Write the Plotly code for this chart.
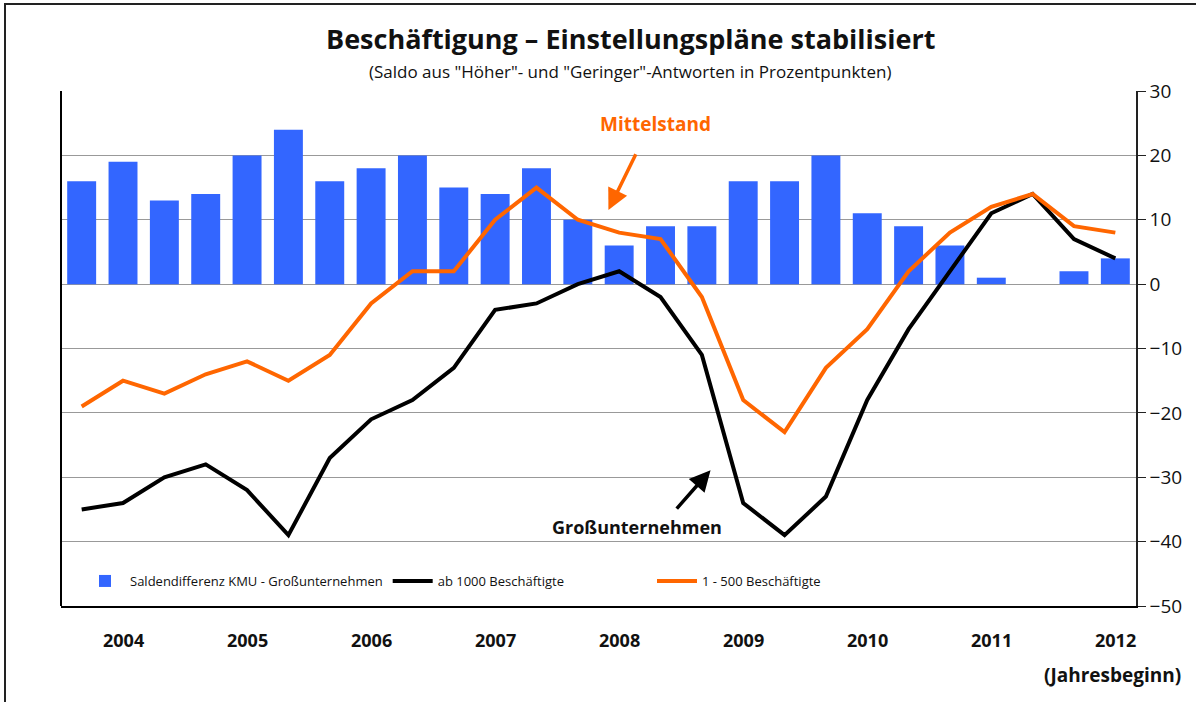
import plotly.graph_objects as go

years = ["2004", "2005", "2006", "2007", "2008", "2009", "2010", "2011", "2012"]
gross = [-35, -34, -30, -28, -32, -39, -27, -21, -18, -13, -4, -3, 0, 2, -2, -11,
         -34, -39, -33, -18, -7, 2, 11, 14, 7, 4]
mittel = [-19, -15, -17, -14, -12, -15, -11, -3, 2, 2, 10, 15, 10, 8, 7, -2,
          -18, -23, -13, -7, 2, 8, 12, 14, 9, 8]
diff = [16, 19, 13, 14, 20, 24, 16, 18, 20, 15, 14, 18, 10, 6, 9, 9,
        16, 16, 20, 11, 9, 6, 1, 0, 2, 4]

idx = list(range(len(diff)))
FONT = "Open Sans"

fig = go.Figure()
fig.add_trace(go.Bar(x=idx, y=diff, name="Saldendifferenz KMU - Großunternehmen",
                     marker=dict(color="#3366FF", line=dict(width=0))))
fig.add_trace(go.Scatter(x=idx, y=gross, mode="lines", name="ab 1000 Beschäftigte",
                         line=dict(color="black", width=4)))
fig.add_trace(go.Scatter(x=idx, y=mittel, mode="lines", name="1 - 500 Beschäftigte",
                         line=dict(color="#FF6600", width=4), legend="legend2"))

annotations = []
for i, yr in enumerate(years):
    annotations.append(dict(x=1 + 3 * i, y=(606 - 640) / 515, xref="x", yref="paper",
                            text="<b>" + yr + "</b>", showarrow=False, yanchor="middle",
                            font=dict(family=FONT, size=18, color="#111111")))
annotations.append(dict(x=(1183 - 61) / 1075, y=(606 - 675) / 515, xref="paper", yref="paper",
                        xanchor="right", yanchor="middle", text="<b>(Jahresbeginn)</b>",
                        showarrow=False, font=dict(family=FONT, size=19, color="#111111")))
annotations.append(dict(x=(630 - 61) / 1075, y=1.0 + (91 - 38) / 515, xref="paper", yref="paper",
                        text="<b>Beschäftigung – Einstellungspläne stabilisiert</b>",
                        showarrow=False, yanchor="middle",
                        font=dict(family=FONT, size=27, color="#111111")))
annotations.append(dict(x=(630 - 61) / 1075, y=1.0 + (91 - 71) / 515, xref="paper", yref="paper",
                        text='(Saldo aus "Höher"- und "Geringer"-Antworten in Prozentpunkten)',
                        showarrow=False, yanchor="middle",
                        font=dict(family=FONT, size=17, color="#111111")))
# Mittelstand label + arrow
annotations.append(dict(x=13.88, y=24.9, xref="x", yref="y", text="<b>Mittelstand</b>",
                        showarrow=False, font=dict(family=FONT, size=19, color="#FF6600")))
annotations.append(dict(x=12.74, y=11.5, ax=13.42, ay=20.4, xref="x", yref="y",
                        axref="x", ayref="y", text="", showarrow=True, arrowhead=2,
                        arrowsize=1.2, arrowwidth=3.5, arrowcolor="#FF6600"))
# Großunternehmen label + arrow
annotations.append(dict(x=13.42, y=-37.7, xref="x", yref="y", text="<b>Großunternehmen</b>",
                        showarrow=False, font=dict(family=FONT, size=18, color="#111111")))
annotations.append(dict(x=15.21, y=-28.9, ax=14.36, ay=-35.1, xref="x", yref="y",
                        axref="x", ayref="y", text="", showarrow=True, arrowhead=2,
                        arrowsize=1.2, arrowwidth=3.5, arrowcolor="black"))

shapes = [
    dict(type="line", xref="paper", yref="paper", x0=0, x1=0, y0=0, y1=1,
         line=dict(color="black", width=2)),
    dict(type="rect", xref="paper", yref="paper", x0=(5 - 61) / 1075, x1=1.5,
         y0=-0.5, y1=1 + (91 - 4) / 515, line=dict(color="#222222", width=2),
         layer="below"),
]

legend_font = dict(family=FONT, size=13, color="#111111")
fig.update_layout(
    width=1196, height=702,
    margin=dict(l=61, r=60, t=91, b=96),
    paper_bgcolor="white", plot_bgcolor="white",
    bargap=0.3,
    showlegend=True,
    legend=dict(orientation="h", x=(80 - 61) / 1075, y=(606 - 581) / 515,
                xanchor="left", yanchor="middle", font=legend_font,
                bgcolor="rgba(0,0,0,0)", itemwidth=40),
    legend2=dict(orientation="h", x=(652 - 61) / 1075, y=(606 - 581) / 515,
                 xanchor="left", yanchor="middle", font=legend_font,
                 bgcolor="rgba(0,0,0,0)", itemwidth=40),
    xaxis=dict(range=[-0.5, 25.5], showticklabels=False, ticks="", showgrid=False,
               showline=True, linecolor="black", linewidth=2, zeroline=False),
    yaxis=dict(range=[-50, 30], side="right", dtick=10, showgrid=True,
               gridcolor="#999999", gridwidth=1, showline=True, linecolor="#222222",
               linewidth=1.5, ticks="outside", ticklen=8, tickcolor="#222222",
               zeroline=False,
               tickfont=dict(family=FONT, size=19, color="#111111")),
    annotations=annotations,
    shapes=shapes,
    font=dict(family=FONT),
)

fig.write_html("out.html", config={"displayModeBar": False},
               post_script="document.body.style.margin='0';document.body.style.overflow='hidden';")
